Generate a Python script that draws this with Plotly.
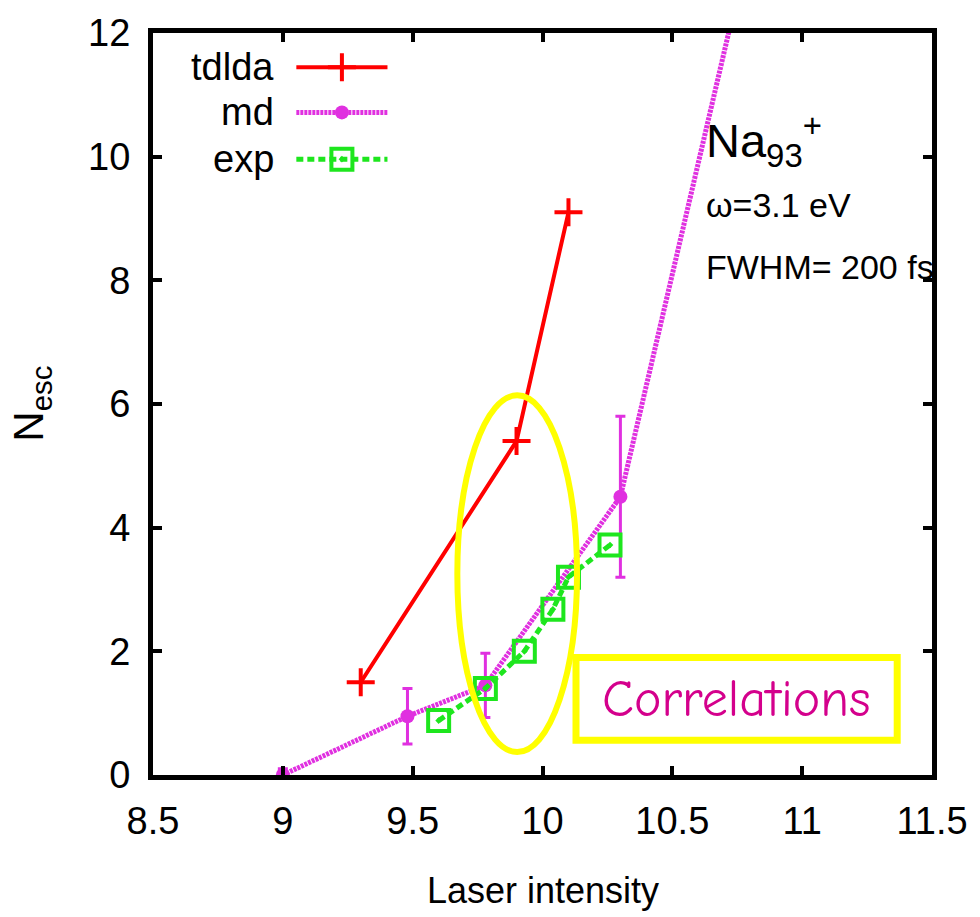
import plotly.graph_objects as go

# Escaped electrons vs. laser intensity for Na93+
tdlda_x = [9.3, 9.9, 10.1]
tdlda_y = [1.5, 5.4, 9.1]

md_x = [9.0, 9.48, 9.78, 10.3, 11.0]
md_y = [0.0, 0.95, 1.45, 4.5, 17.1]
md_err = [0.1, 0.45, 0.52, 1.3, 0.0]

exp_x = [9.6, 9.78, 9.93, 10.04, 10.1, 10.26]
exp_y = [0.88, 1.4, 2.0, 2.68, 3.2, 3.72]

x_ticks = [8.5, 9, 9.5, 10, 10.5, 11, 11.5]
x_tick_text = ["8.5", "9", "9.5", "10", "10.5", "11", "11.5"]
y_ticks = [0, 2, 4, 6, 8, 10, 12]

RED = "#ff0000"
MAG = "#e030e0"
GRN = "#1ee61e"
FONT = "Liberation Sans, Arial"

md_line = dict(color=MAG, width=5, dash="3px,1px")
exp_line = dict(color=GRN, width=5, dash="7px,4px")

fig = go.Figure()

fig.add_trace(go.Scatter(
    x=md_x, y=md_y, mode="lines+markers", showlegend=False,
    line=md_line,
    marker=dict(symbol="circle", size=14, color=MAG),
    error_y=dict(type="data", array=md_err, color=MAG, thickness=3, width=5),
    cliponaxis=True,
))
fig.add_trace(go.Scatter(
    x=tdlda_x, y=tdlda_y, mode="lines+markers", showlegend=False,
    line=dict(color=RED, width=4),
    marker=dict(symbol="cross-thin", size=20, line=dict(color=RED, width=4)),
))
fig.add_trace(go.Scatter(
    x=exp_x, y=exp_y, mode="lines+markers", showlegend=False,
    line=exp_line,
    marker=dict(symbol="square-open-dot", size=21, color=GRN,
                line=dict(color=GRN, width=4)),
))

# Hand-made key (text on the left, sample on the right) on an overlay axis
key_names = ["tdlda", "md", "exp"]
key_y = [0.954, 0.893, 0.830]
key_x0, key_x1, key_text_x = 0.184, 0.301, 0.158
key_styles = [
    (dict(color=RED, width=4), dict(symbol="cross-thin", size=20, line=dict(color=RED, width=4))),
    (md_line, dict(symbol="circle", size=14, color=MAG)),
    (exp_line, dict(symbol="square-open-dot", size=21, color=GRN, line=dict(color=GRN, width=4))),
]
for name, ky, (ln, mk) in zip(key_names, key_y, key_styles):
    fig.add_trace(go.Scatter(
        x=[key_x0, key_x1], y=[ky, ky], mode="lines", line=ln,
        xaxis="x2", yaxis="y2", showlegend=False, hoverinfo="skip"))
    fig.add_trace(go.Scatter(
        x=[(key_x0 + key_x1) / 2], y=[ky], mode="markers", marker=mk,
        xaxis="x2", yaxis="y2", showlegend=False, hoverinfo="skip"))
    fig.add_annotation(xref="paper", yref="paper", x=key_text_x, y=ky,
                       xanchor="right", yanchor="middle", showarrow=False,
                       text=name, font=dict(family=FONT, size=38, color="black"))

# Highlight ellipse and label box
fig.add_shape(type="circle", xref="x", yref="y", x0=9.672, x1=10.133, y0=0.37, y1=6.14,
              line=dict(color="#ffff00", width=6), layer="above")
fig.add_shape(type="rect", xref="x", yref="y", x0=10.129, x1=11.366, y0=0.56, y1=1.9,
              line=dict(color="#ffff00", width=7), fillcolor="white", layer="above")
fig.add_annotation(xref="x", yref="y", x=10.7475, y=1.23, showarrow=False,
                   text="Correlations",
                   font=dict(family="Comic Sans MS, Comic Neue, Lato", size=52, color="#d4008c"))

# Cluster and pulse parameters
fig.add_annotation(xref="paper", yref="paper", x=0.707, y=0.855, xanchor="left", yanchor="middle",
                   showarrow=False, text="Na<sub>93</sub><sup>+</sup>",
                   font=dict(family=FONT, size=47, color="black"))
fig.add_annotation(xref="paper", yref="paper", x=0.707, y=0.768, xanchor="left", yanchor="middle",
                   showarrow=False, text="ω=3.1 eV",
                   font=dict(family=FONT, size=34, color="black"))
fig.add_annotation(xref="paper", yref="paper", x=0.707, y=0.685, xanchor="left", yanchor="middle",
                   showarrow=False, text="FWHM= 200 fs",
                   font=dict(family=FONT, size=34, color="black"))

# Axis titles
fig.add_annotation(xref="paper", yref="paper", x=0.5, y=-0.155, xanchor="center", yanchor="middle",
                   showarrow=False, text="Laser intensity",
                   font=dict(family=FONT, size=36, color="black"))
fig.add_annotation(xref="paper", yref="paper", x=-0.157, y=0.5, xanchor="center", yanchor="middle",
                   showarrow=False, text="N<sub>esc</sub>", textangle=-90,
                   font=dict(family=FONT, size=42, color="black"))

axis_common = dict(showgrid=False, zeroline=False, showline=True, linecolor="black",
                   linewidth=5, mirror="allticks", ticks="inside", ticklen=9,
                   tickwidth=4, tickcolor="black",
                   tickfont=dict(family=FONT, size=38, color="black"))

fig.update_layout(
    width=980, height=917,
    margin=dict(l=153, r=46, t=28, b=142),
    paper_bgcolor="white", plot_bgcolor="white",
    showlegend=False,
    xaxis=dict(range=[8.5, 11.5], tickvals=x_ticks, ticktext=x_tick_text,
               ticklabelstandoff=8, **axis_common),
    yaxis=dict(range=[0, 12], tickvals=y_ticks, ticklabelstandoff=10, **axis_common),
    xaxis2=dict(overlaying="x", range=[0, 1], visible=False),
    yaxis2=dict(overlaying="y", range=[0, 1], visible=False),
)

fig.write_html("out.html")
